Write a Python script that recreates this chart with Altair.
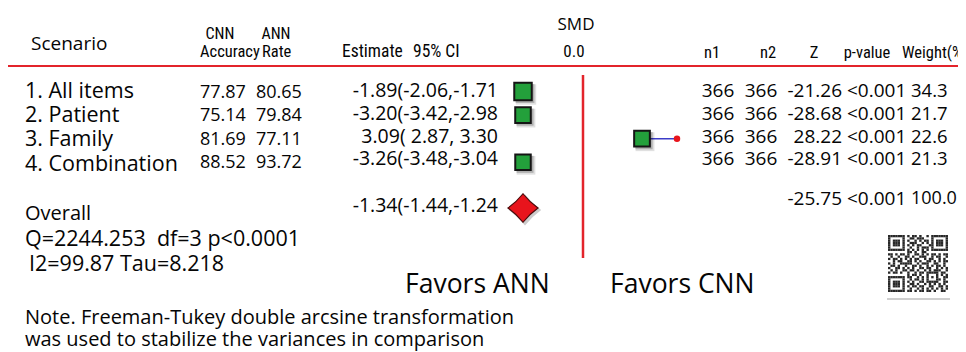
import altair as alt
import pandas as pd

# ---------------- data ----------------
scenarios = ["1. All items", "2. Patient", "3. Family", "4. Combination"]
cnn_accuracy = [77.87, 75.14, 81.69, 88.52]
ann_rate = [80.65, 79.84, 77.11, 93.72]
estimate = [-1.89, -3.20, 3.09, -3.26]
ci_low = [-2.06, -3.42, 2.87, -3.48]
ci_high = [-1.71, -2.98, 3.30, -3.04]
n1 = [366, 366, 366, 366]
n2 = [366, 366, 366, 366]
z_values = [-21.26, -28.68, 28.22, -28.91]
p_values = ["<0.001", "<0.001", "<0.001", "<0.001"]
weights = [34.3, 21.7, 22.6, 21.3]

overall_estimate = [-1.34]
overall_low = [-1.44]
overall_high = [-1.24]
overall_z = [-25.75]
overall_p = ["<0.001"]
overall_weight = [100.0]

heterogeneity = ["Overall", "Q=2244.253\u00a0\u00a0df=3 p<0.0001", "I2=99.87 Tau=8.218"]
note_lines = ["Note. Freeman-Tukey double arcsine transformation",
              "was used to stabilize the variances in comparison"]

qr_pattern = [
    "#######.#.##.#..#.#######",
    "#.....#..##.###...#.....#",
    "#.###.#.#..#.#.##.#.###.#",
    "#.###.#..###..#.#.#.###.#",
    "#.###.#.#.#.##...##.###.#",
    "#.....#..#..#.###.#.....#",
    "#######.#.#.#.#.#.#######",
    "........##.#..##.........",
    "##.#.##.#..##.#.#.##.#.##",
    ".#..#..##.#..###..#.##..#",
    "#.##.#.#.#.##..#.##..#.#.",
    "..#.##..##.#.#..##.#.#.##",
    "#.#..#####..#.###..##..#.",
    ".##.#..#..##.#..#.#.##.#.",
    "#..##.#.#.#..##.##..#.#.#",
    ".#.#..##.##.#..#.#.###..#",
    "#.##.#..#..#.##.#####.##.",
    "........#.##.#..#...#.#.#",
    "#######.##..#.#.#.#.#..##",
    "#.....#..#.##.#.#...##.#.",
    "#.###.#.#.#..##.#####..##",
    "#.###.#..##.#..#.#.#.#.#.",
    "#.###.#.#.##.##..##..##.#",
    "#.....#..#..#.#.#.#.#.#.#",
    "#######.##.#.##.##.#..##.",
]

# ---------------- tables ----------------
def ci_text(e, lo, hi):
    return f"{e:5.2f}({lo:5.2f},{hi:5.2f})"[:17]

df = pd.DataFrame({
    "row": list(range(len(scenarios))),
    "scenario": scenarios,
    "cnn": [f"{v:.2f}" for v in cnn_accuracy],
    "ann": [f"{v:.2f}" for v in ann_rate],
    "est": estimate,
    "lo": ci_low,
    "hi": ci_high,
    "ci": [ci_text(e, l, h) for e, l, h in zip(estimate, ci_low, ci_high)],
    "n1": [str(v) for v in n1],
    "n2": [str(v) for v in n2],
    "z": [f"{v:.2f}" for v in z_values],
    "p": p_values,
    "w": weights,
    "wt": [f"{v:.1f}" for v in weights],
})

ov = pd.DataFrame({
    "est": overall_estimate,
    "ci": [ci_text(e, l, h) for e, l, h in zip(overall_estimate, overall_low, overall_high)],
    "z": [f"{v:.2f}" for v in overall_z],
    "p": overall_p,
    "wt": [f"{v:.1f}" for v in overall_weight],
})

qr_cells = pd.DataFrame(
    [{"c": c, "c2": c + 1, "r": r, "r2": r + 1}
     for r, line in enumerate(qr_pattern) for c, ch in enumerate(line[:25]) if ch == "#"]
)

# ---------------- styles ----------------
BODY = "Open Sans"
NARROW = "Liberation Sans Narrow, Arial Narrow, Roboto Condensed, Open Sans"
INK = "#050505"
RED = "#e3242b"
GREEN = "#23a03b"
OFF = 8  # page margin

one = pd.DataFrame({"k": [0]})


def label(text, x, y, size, align="left", font=BODY, color=INK):
    return alt.Chart(one).mark_text(
        text=text, align=align, baseline="middle", fontSize=size, font=font, color=color
    ).encode(x=alt.value(x - OFF), y=alt.value(y - OFF))


def yscale(start, step):
    return alt.Scale(type="linear", domain=[0, 1], range=[start - OFF, start - OFF + step],
                     nice=False, zero=False)


y_label = yscale(92, 24.2)
y_num = yscale(93, 23.4)
y_right = yscale(91, 22.8)
y_mark = yscale(91.5, 23.6)

xs = alt.Scale(type="linear", domain=[-1.2, 0, 3.09, 3.30],
               range=[523 - OFF, 583 - OFF, 642 - OFF, 677 - OFF],
               clamp=True, nice=False, zero=False)


def col_text(field, x, ys, align="left", size=19, font=BODY):
    return alt.Chart(df).mark_text(
        align=align, baseline="middle", fontSize=size, font=font, color=INK
    ).encode(x=alt.value(x - OFF), y=alt.Y("row:Q", scale=ys, axis=None), text=f"{field}:N")


layers = []

# header
layers += [
    label("Scenario", 31, 44, 19),
    label("CNN", 220, 34, 16, "center", NARROW),
    label("ANN", 276, 34, 16, "center", NARROW),
    label("Accuracy", 200, 52, 16.5, "left", NARROW),
    label("Rate", 262, 52, 16.5, "left", NARROW),
    label("Estimate", 342, 52, 17.5, "left", NARROW),
    label("95% CI", 413, 52, 17.5, "left", NARROW),
    label("SMD", 576, 25, 17, "center"),
    label("0.0", 574, 52, 17, "center", NARROW),
    label("n1", 712, 53, 16.5, "center", NARROW),
    label("n2", 768, 53, 16.5, "center", NARROW),
    label("Z", 814, 53, 16.5, "center", NARROW),
    label("p-value", 867, 53, 16.5, "center", NARROW),
    label("Weight(%)", 902, 53, 16.5, "left", NARROW),
]

# header separator
layers.append(
    alt.Chart(one).mark_rule(color=RED, strokeWidth=2).encode(
        x=alt.value(7 - OFF), x2=alt.value(958 - OFF), y=alt.value(66 - OFF))
)

# table columns
layers += [
    col_text("scenario", 25, y_label, size=21.5),
    col_text("cnn", 200, y_num, size=18),
    col_text("ann", 256, y_num, size=18),
    col_text("ci", 498, y_right, align="right", size=19.5),
    col_text("n1", 718, y_right, align="center", size=19),
    col_text("n2", 761, y_right, align="center", size=19),
    col_text("z", 842, y_right, align="right", size=19),
    col_text("p", 847, y_right, align="left", size=19),
    col_text("wt", 911, y_right, align="left", size=18.5),
]

# overall row texts
def ov_text(field, x, y, align, size=19):
    return alt.Chart(ov).mark_text(
        align=align, baseline="middle", fontSize=size, font=BODY, color=INK
    ).encode(x=alt.value(x - OFF), y=alt.value(y - OFF), text=f"{field}:N")

layers += [
    ov_text("ci", 498, 206, "right", 19.5),
    ov_text("z", 842, 199, "right"),
    ov_text("p", 847, 199, "left"),
    ov_text("wt", 911, 199, "left", 18),
]

# heterogeneity block
layers += [
    label(heterogeneity[0], 25, 214, 20),
    label(heterogeneity[1], 25, 240, 21.5),
    label(heterogeneity[2], 29, 265, 21.5),
]

# null line
null_df = pd.DataFrame({"smd": [0.0]})
layers.append(
    alt.Chart(null_df).mark_rule(color=RED, strokeWidth=2.5).encode(
        x=alt.X("smd:Q", scale=xs, axis=None), y=alt.value(75 - OFF), y2=alt.value(258 - OFF))
)

# CI lines and end dots
layers.append(
    alt.Chart(df).mark_rule(color="#3c3cc8", strokeWidth=1.5).encode(
        x=alt.X("lo:Q", scale=xs, axis=None), x2="hi:Q",
        y=alt.Y("row:Q", scale=y_mark, axis=None))
)
layers.append(
    alt.Chart(df).mark_circle(color="#e8141c", opacity=1, size=42).encode(
        x=alt.X("hi:Q", scale=xs, axis=None), y=alt.Y("row:Q", scale=y_mark, axis=None))
)

# square shadows + squares
for off, grow, op in [(3, 110, 0.12), (2, 50, 0.22)]:
    layers.append(
        alt.Chart(df).mark_square(color="#000", opacity=op, xOffset=off, yOffset=off).encode(
            x=alt.X("est:Q", scale=xs, axis=None),
            y=alt.Y("row:Q", scale=y_mark, axis=None),
            size=alt.Size("w:Q", scale=alt.Scale(domain=[21.3, 34.3], range=[240 + grow, 306 + grow]),
                          legend=None))
    )
layers.append(
    alt.Chart(df).mark_square(fill=GREEN, stroke="#151515", strokeWidth=2, opacity=1, fillOpacity=1).encode(
        x=alt.X("est:Q", scale=xs, axis=None),
        y=alt.Y("row:Q", scale=y_mark, axis=None),
        size=alt.Size("w:Q", scale=alt.Scale(domain=[21.3, 34.3], range=[240, 306]), legend=None))
)

# overall diamond
DIAMOND = "M0,-0.95 Q0.42,-0.42 1,0 Q0.42,0.42 0,0.95 Q-0.42,0.42 -1,0 Q-0.42,-0.42 0,-0.95 Z"
layers.append(
    alt.Chart(ov).mark_point(shape=DIAMOND, filled=True, color="#000", opacity=0.2, size=1050,
                             xOffset=2, yOffset=2).encode(
        x=alt.X("est:Q", scale=xs, axis=None), y=alt.value(208 - OFF))
)
layers.append(
    alt.Chart(ov).mark_point(shape=DIAMOND, filled=True, fill="#e8141c", stroke="#4a0a0a",
                             strokeWidth=1.2, opacity=1, size=900).encode(
        x=alt.X("est:Q", scale=xs, axis=None), y=alt.value(208 - OFF))
)

# favors labels
layers += [
    label("Favors ANN", 405, 285, 26.5),
    label("Favors CNN", 610, 285, 26.5),
]

# note
layers += [
    label(note_lines[0], 25, 318, 20),
    label(note_lines[1], 25, 340, 20),
]

# QR code
layers.append(
    alt.Chart(qr_cells).mark_rect(color="#111", opacity=0.9).encode(
        x=alt.X("c:Q", scale=alt.Scale(domain=[0, 25], range=[888 - OFF, 948 - OFF], nice=False, zero=False), axis=None),
        x2="c2:Q",
        y=alt.Y("r:Q", scale=alt.Scale(domain=[0, 25], range=[235 - OFF, 292 - OFF], nice=False, zero=False), axis=None),
        y2="r2:Q",
    )
)
layers.append(
    alt.Chart(one).mark_rule(color="#cfcfcf", strokeWidth=2).encode(
        x=alt.value(887 - OFF), x2=alt.value(950 - OFF), y=alt.value(299 - OFF))
)

chart = alt.layer(*layers).resolve_scale(
    x="independent", y="independent", size="independent"
).properties(
    width=950, height=344, autosize=alt.AutoSizeParams(type="none"), padding=0, background="white"
).configure_view(strokeWidth=0)

chart.save("out.html", embed_options={"renderer": "svg", "actions": False})
